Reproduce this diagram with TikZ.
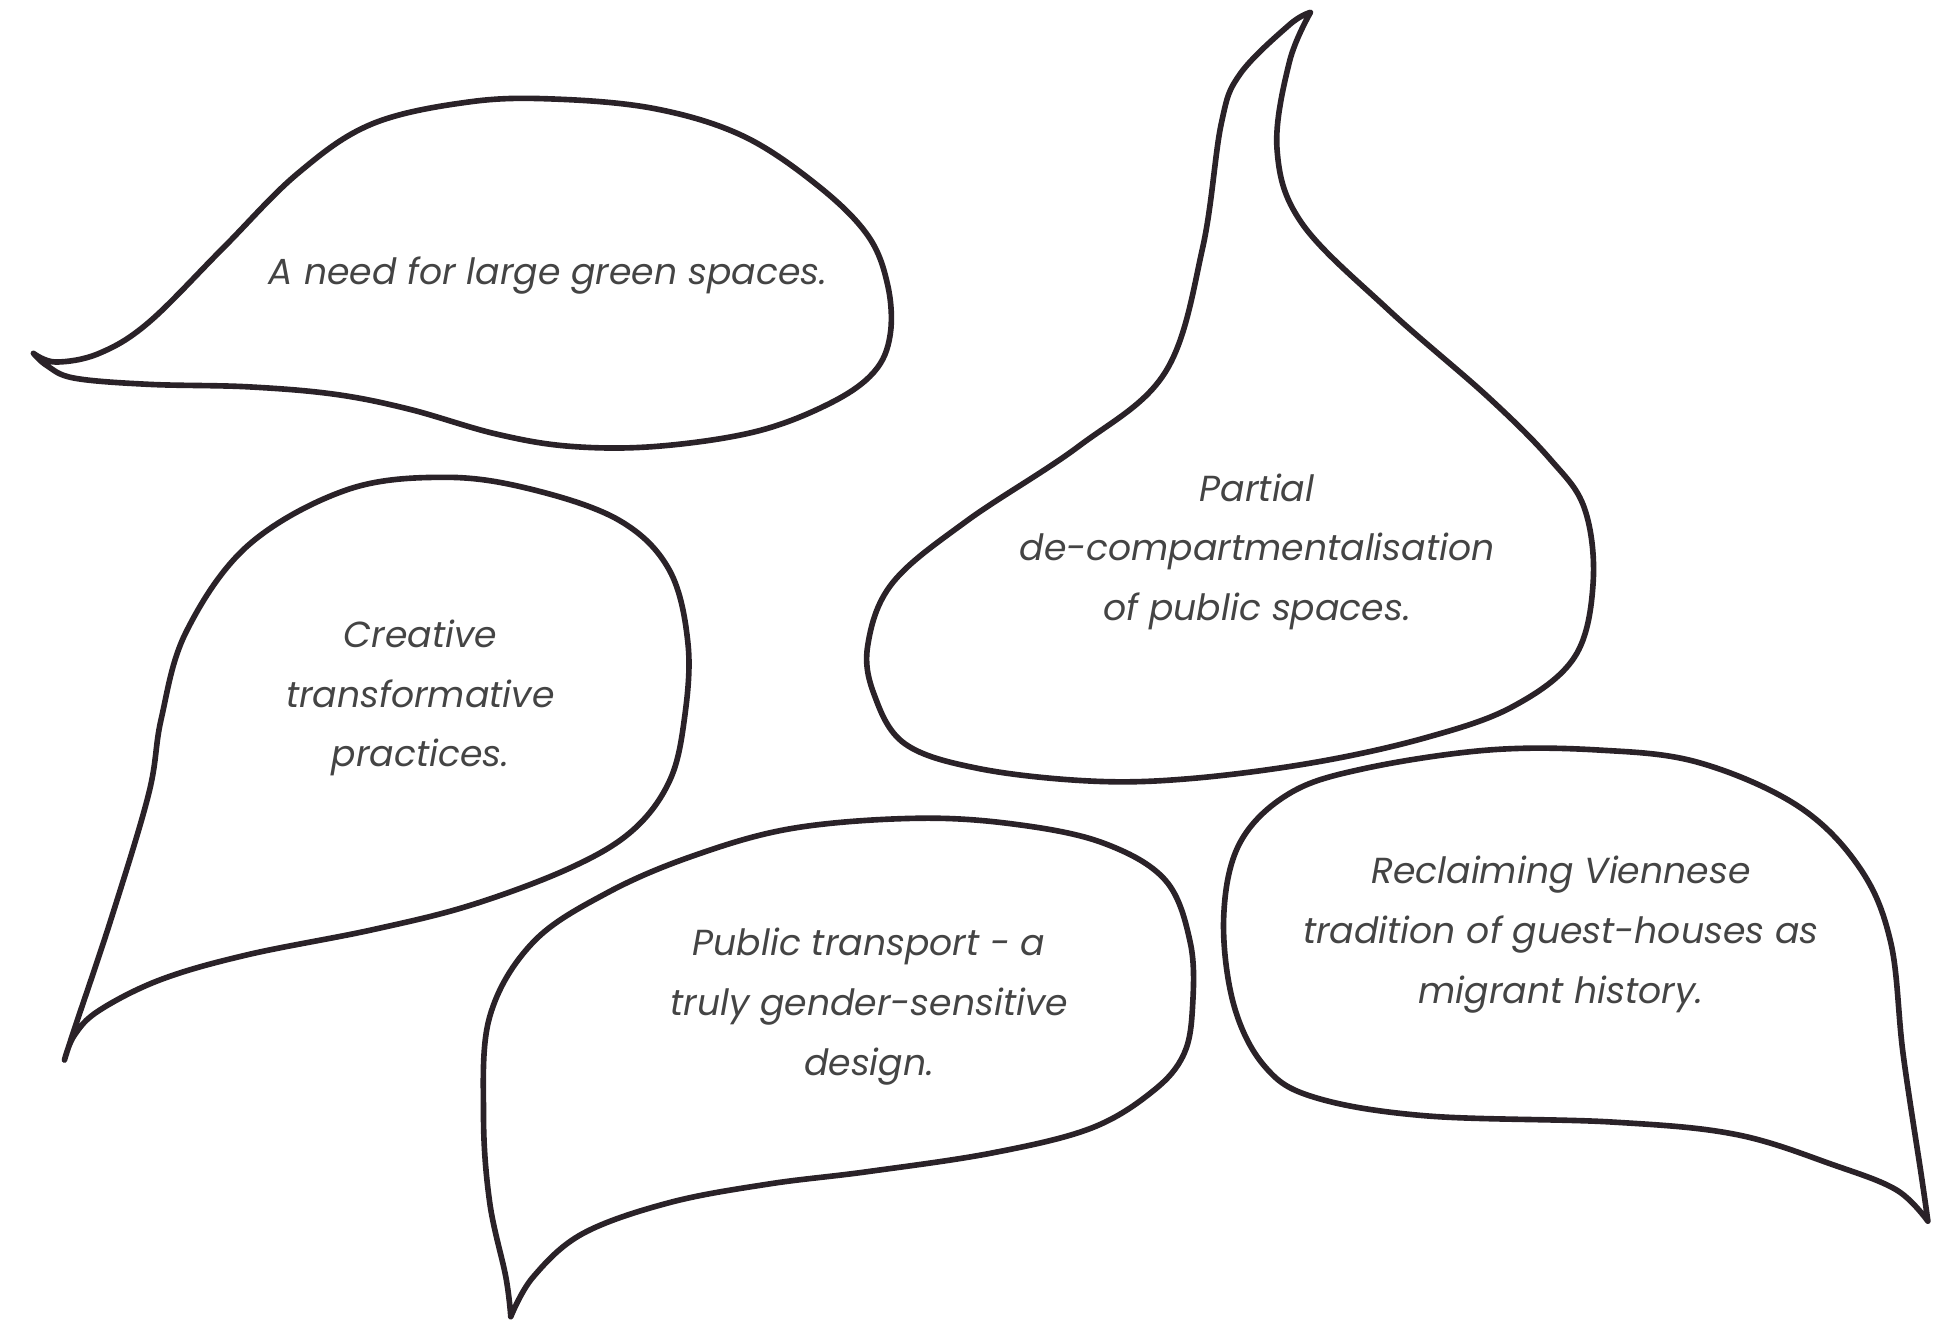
\documentclass[tikz,border=0pt]{standalone}
\usepackage{fontspec}
\setmainfont{Poppins}
\definecolor{ink}{HTML}{2A2228}
\definecolor{txt}{HTML}{444444}
\begin{document}
\begin{tikzpicture}[x=0.124mm,y=-0.124mm,
  bubble/.style={draw=ink,line width=1.6pt,line join=round,line cap=round},
  lbl/.style={text=txt,align=center,font=\fontsize{10.3}{17}\selectfont\itshape}]
\useasboundingbox (0,0) rectangle (1568,1065);
% bubble 1
\draw[bubble] plot[smooth,tension=0.6] coordinates {(27,285) (45,292) (80,285) (120,260) (180,200) (240,140) (300,100) (380,82) (450,80) (530,88) (600,110) (660,150) (700,190) (716,230) (718,270) (705,300) (670,325) (610,348) (530,360) (460,360) (400,350) (330,330) (270,318) (200,312) (120,310) (60,305) (38,295) (27,285)};
% bubble 2
\draw[bubble] plot[smooth,tension=0.6] coordinates {(52,855) (60,830) (90,740) (120,640) (130,580) (150,510) (200,440) (280,395) (360,385) (430,395) (500,420) (540,460) (555,520) (552,580) (540,630) (510,670) (460,700) (380,730) (300,750) (200,770) (130,790) (80,815) (60,835) (52,855)};
% bubble 3
\draw[bubble] plot[smooth,tension=0.6] coordinates {(1057,10) (1040,20) (1000,60) (985,100) (970,200) (940,300) (870,360) (780,420) (720,470) (700,520) (705,560) (730,600) (790,620) (880,630) (960,628) (1060,615) (1150,595) (1220,570) (1270,530) (1285,470) (1278,410) (1250,370) (1200,320) (1120,250) (1050,180) (1030,120) (1040,50) (1057,10)};
% bubble 4
\draw[bubble] plot[smooth,tension=0.6] coordinates {(412,1062) (408,1030) (395,970) (390,900) (395,820) (430,760) (490,720) (560,690) (640,668) (740,660) (820,665) (890,680) (940,710) (960,760) (962,810) (955,850) (930,880) (880,910) (800,930) (700,945) (620,955) (540,970) (470,995) (430,1030) (412,1062)};
% bubble 5
\draw[bubble] plot[smooth,tension=0.6] coordinates {(1555,985) (1550,950) (1535,850) (1525,760) (1500,700) (1450,650) (1370,615) (1290,605) (1200,605) (1100,620) (1040,640) (1000,680) (987,740) (995,810) (1020,860) (1060,885) (1150,900) (1300,905) (1400,915) (1480,940) (1530,960) (1555,985)};
\node[lbl] (t1) at (442,222) {A need for large green spaces.};
\node[lbl] (t2) at (339,563) {Creative\\transformative\\practices.};
\node[lbl] (t3) at (1014,445) {Partial\\de-compartmentalisation\\of public spaces.};
\node[lbl] (t4) at (701,812) {Public transport - a\\truly gender-sensitive\\design.};
\node[lbl] (t5) at (1259,754) {Reclaiming Viennese\\tradition of guest-houses as\\migrant history.};
\end{tikzpicture}
\end{document}
